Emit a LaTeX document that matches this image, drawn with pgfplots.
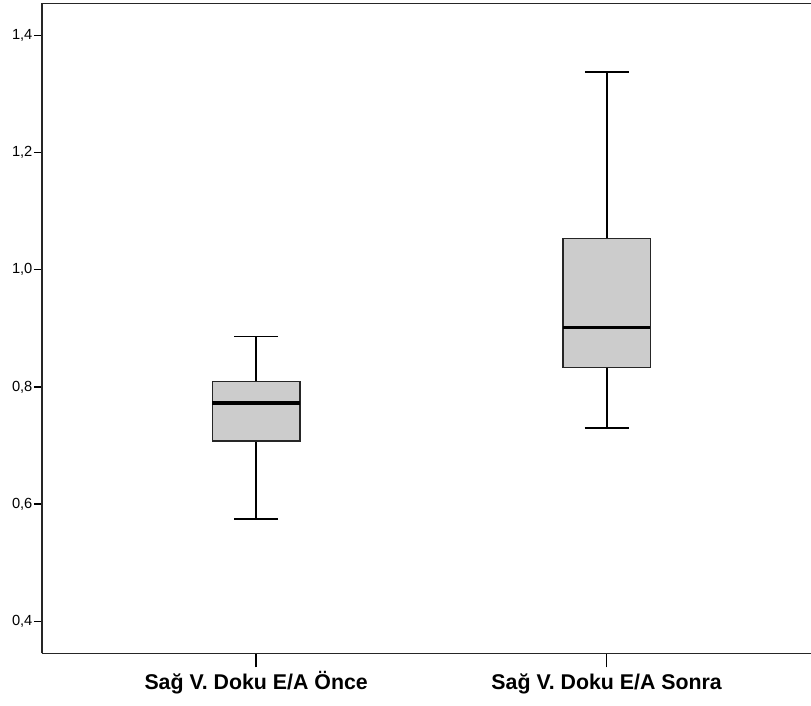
\documentclass[border=0pt]{standalone}
\usepackage{fontspec}
\setmainfont{Liberation Sans}
\usepackage{pgfplots}
\pgfplotsset{compat=1.18}
\usepgfplotslibrary{statistics}
\definecolor{boxfill}{RGB}{204,204,204}
\begin{document}
\begin{tikzpicture}
\begin{axis}[
  scale only axis, width=576.75pt, height=487.5pt,
  xmin=0.389, xmax=2.583, ymin=0.3453, ymax=1.4547,
  axis x line*=bottom, axis y line*=left,
  axis line style={line width=1.1pt, black!85},
  xtick={1,2},
  xticklabels={Sağ V. Doku E/A Önce, Sağ V. Doku E/A Sonra},
  ytick={0.4,0.6,0.8,1.0,1.2,1.4},
  tick align=outside,
  major tick length=6pt,
  x tick style={line width=1.1pt, black, /pgfplots/major tick length=10.5pt},
  y tick style={line width=1.1pt, black},
  yticklabel style={font=\fontsize{11}{13}\selectfont, inner sep=1pt, /pgf/number format/.cd, use comma, fixed, fixed zerofill, precision=1},
  xticklabel style={font=\fontsize{16}{18}\selectfont\bfseries, text height=0.75em, text depth=0.25em, yshift=-10pt},
  /pgf/number format/assume math mode=true,
  boxplot/draw direction=y,
  boxplot/every median/.style={line width=2.4pt, black},
  boxplot/every whisker/.style={line width=1.3pt, black},
  boxplot/every box/.style={line width=1.1pt, draw=black!85, fill=boxfill},
]
\addplot+[solid, draw=black, fill=boxfill, line width=1.3pt,
  boxplot prepared={lower whisker=0.5744, lower quartile=0.708, median=0.7726,
    upper quartile=0.809, upper whisker=0.886, draw position=1,
    box extend=0.25, whisker extend=0.125}] coordinates {};
\addplot+[solid, draw=black, fill=boxfill, line width=1.3pt,
  boxplot prepared={lower whisker=0.730, lower quartile=0.833, median=0.902,
    upper quartile=1.053, upper whisker=1.337, draw position=2,
    box extend=0.25, whisker extend=0.125}] coordinates {};
\draw[line width=1.1pt, black!85] (rel axis cs:0,1) -- (rel axis cs:1,1);
\coordinate (bl) at (rel axis cs:0,0);
\coordinate (tr) at (rel axis cs:1,1);
\end{axis}
\pgfresetboundingbox
\path ([xshift=-31.5pt,yshift=-39pt]bl) rectangle ([yshift=2.5pt]tr);
\end{tikzpicture}
\end{document}
